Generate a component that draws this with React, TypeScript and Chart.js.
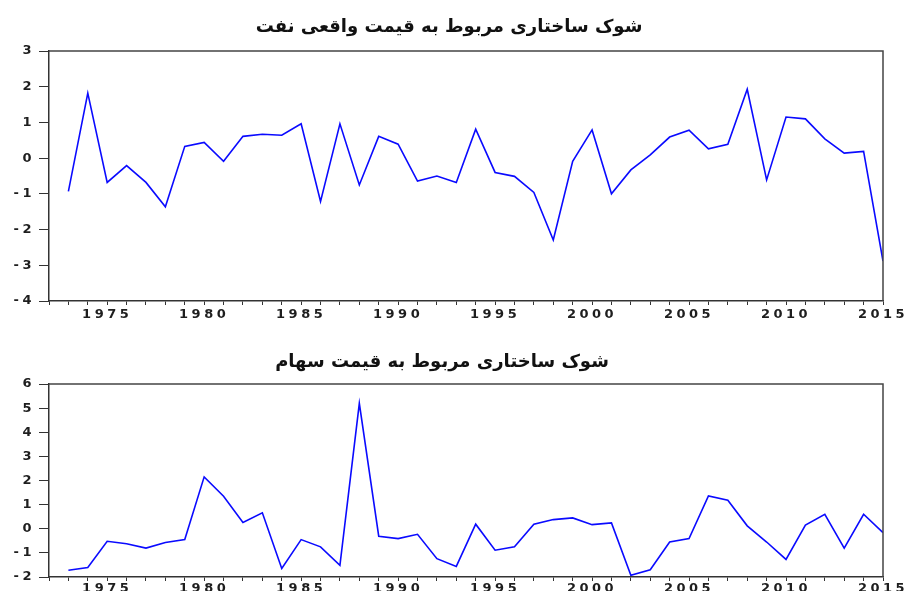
import React, { useEffect, useRef } from "react";
import { Chart, registerables } from "chart.js";

Chart.register(...registerables);

const YEARS = [
  1973, 1974, 1975, 1976, 1977, 1978, 1979, 1980, 1981, 1982, 1983, 1984, 1985,
  1986, 1987, 1988, 1989, 1990, 1991, 1992, 1993, 1994, 1995, 1996, 1997, 1998,
  1999, 2000, 2001, 2002, 2003, 2004, 2005, 2006, 2007, 2008, 2009, 2010, 2011,
  2012, 2013, 2014, 2015,
];

const OIL_SHOCK = [
  -0.93, 1.82, -0.68, -0.21, -0.68, -1.36, 0.33, 0.44, -0.09, 0.61, 0.67, 0.64, 0.96,
  -1.21, 0.96, -0.75, 0.61, 0.39, -0.64, -0.5, -0.68, 0.81, -0.4, -0.51, -0.96, -2.29,
  -0.09, 0.79, -1.0, -0.33, 0.09, 0.59, 0.78, 0.26, 0.39, 1.93, -0.61, 1.15, 1.1,
  0.54, 0.14, 0.19, -2.88,
];

const STOCK_SHOCK = [
  -1.72, -1.61, -0.52, -0.62, -0.8, -0.57, -0.45, 2.15, 1.35, 0.26, 0.66, -1.65, -0.45,
  -0.75, -1.52, 5.2, -0.31, -0.41, -0.23, -1.24, -1.56, 0.19, -0.89, -0.75, 0.19, 0.38,
  0.45, 0.17, 0.24, -1.93, -1.7, -0.55, -0.41, 1.36, 1.18, 0.12, -0.55, -1.27, 0.15,
  0.6, -0.8, 0.6, -0.16,
];

const X_LABEL_YEARS = [1975, 1980, 1985, 1990, 1995, 2000, 2005, 2010, 2015];

const OIL_TITLE = "شوک ساختاری مربوط به قیمت واقعی نفت";
const STOCK_TITLE = "شوک ساختاری مربوط به قیمت سهام";

type Props = {
  title: string;
  values: number[];
  yMin: number;
  yMax: number;
  top: number;
  height: number;
  padTop: number;
  xAxisH: number;
  labelPad: number;
  titleX: number;
  titleY: number;
};

const AXIS_COLOR = "#333333";
const TEXT_COLOR = "#1e1e1e";
const TICK_FONT = { family: "'DejaVu Sans'", size: 13, weight: "bold" as const };
const LETTER_SPACING = "3.5px";

function ShockChart(p: Props) {
  const ref = useRef<HTMLCanvasElement | null>(null);
  useEffect(() => {
    if (!ref.current) return;
    const spacingPlugin = {
      id: "spacing",
      beforeUpdate(chart: any) {
        chart.ctx.letterSpacing = LETTER_SPACING;
      },
      beforeDraw(chart: any) {
        chart.ctx.letterSpacing = LETTER_SPACING;
      },
    };
    const framePlugin = {
      id: "frame",
      afterDraw(chart: any) {
        const { ctx, chartArea } = chart;
        ctx.save();
        ctx.letterSpacing = "0px";
        ctx.strokeStyle = "#444444";
        ctx.lineWidth = 1.5;
        ctx.beginPath();
        ctx.moveTo(chartArea.left, chartArea.top);
        ctx.lineTo(chartArea.right, chartArea.top);
        ctx.lineTo(chartArea.right, chartArea.bottom);
        ctx.stroke();
        ctx.font = "bold 18px 'DejaVu Sans'";
        ctx.fillStyle = "#111111";
        ctx.textAlign = "center";
        ctx.textBaseline = "alphabetic";
        ctx.direction = "rtl";
        ctx.fillText(p.title, p.titleX, p.titleY);
        ctx.restore();
      },
    };
    const chart = new Chart(ref.current, {
      type: "line",
      data: {
        datasets: [
          {
            data: YEARS.map((yr, i) => ({ x: yr, y: p.values[i] })),
            borderColor: "#0a0aff",
            borderWidth: 1.6,
            pointRadius: 0,
            tension: 0,
            fill: false,
          },
        ],
      },
      options: {
        animation: false,
        responsive: false,
        maintainAspectRatio: false,
        events: [],
        layout: { padding: { top: p.padTop, right: 25, left: 0, bottom: 0 } },
        plugins: {
          legend: { display: false },
          title: { display: false },
          tooltip: { enabled: false },
        },
        scales: {
          x: {
            type: "linear",
            min: 1972,
            max: 2015,
            ticks: {
              stepSize: 1,
              autoSkip: false,
              maxRotation: 0,
              minRotation: 0,
              padding: p.labelPad,
              color: TEXT_COLOR,
              font: TICK_FONT,
              callback: (v: any) => (X_LABEL_YEARS.includes(Number(v)) ? String(v) : ""),
            },
            grid: {
              drawOnChartArea: false,
              drawTicks: true,
              tickLength: 4,
              color: AXIS_COLOR,
            },
            border: { color: AXIS_COLOR, width: 1.5 },
            afterFit: (s: any) => {
              s.height = p.xAxisH;
              s.paddingLeft = 0;
              s.paddingRight = 0;
            },
          },
          y: {
            min: p.yMin,
            max: p.yMax,
            ticks: {
              stepSize: 1,
              padding: 4,
              color: TEXT_COLOR,
              font: TICK_FONT,
            },
            grid: {
              drawOnChartArea: false,
              drawTicks: true,
              tickLength: 10,
              color: AXIS_COLOR,
            },
            border: { color: AXIS_COLOR, width: 1.5 },
            afterFit: (s: any) => {
              s.width = 49;
              s.paddingTop = 0;
              s.paddingBottom = 0;
            },
          },
        },
      } as any,
      plugins: [spacingPlugin, framePlugin],
    });
    return () => chart.destroy();
  }, []);
  return (
    <canvas
      ref={ref}
      width={908}
      height={p.height}
      style={{ position: "absolute", left: 0, top: p.top, width: 908, height: p.height, display: "block" }}
    />
  );
}

export default function App() {
  return (
    <div style={{ position: "absolute", left: 0, top: 0, width: 908, height: 591, background: "#fff", overflow: "hidden" }}>
      <ShockChart
        title={OIL_TITLE}
        values={OIL_SHOCK}
        yMin={-4}
        yMax={3}
        top={0}
        height={335}
        padTop={51}
        xAxisH={34}
        labelPad={2}
        titleX={449}
        titleY={32}
      />
      <ShockChart
        title={STOCK_TITLE}
        values={STOCK_SHOCK}
        yMin={-2}
        yMax={6}
        top={335}
        height={256}
        padTop={49}
        xAxisH={14}
        labelPad={0}
        titleX={442}
        titleY={32}
      />
    </div>
  );
}
